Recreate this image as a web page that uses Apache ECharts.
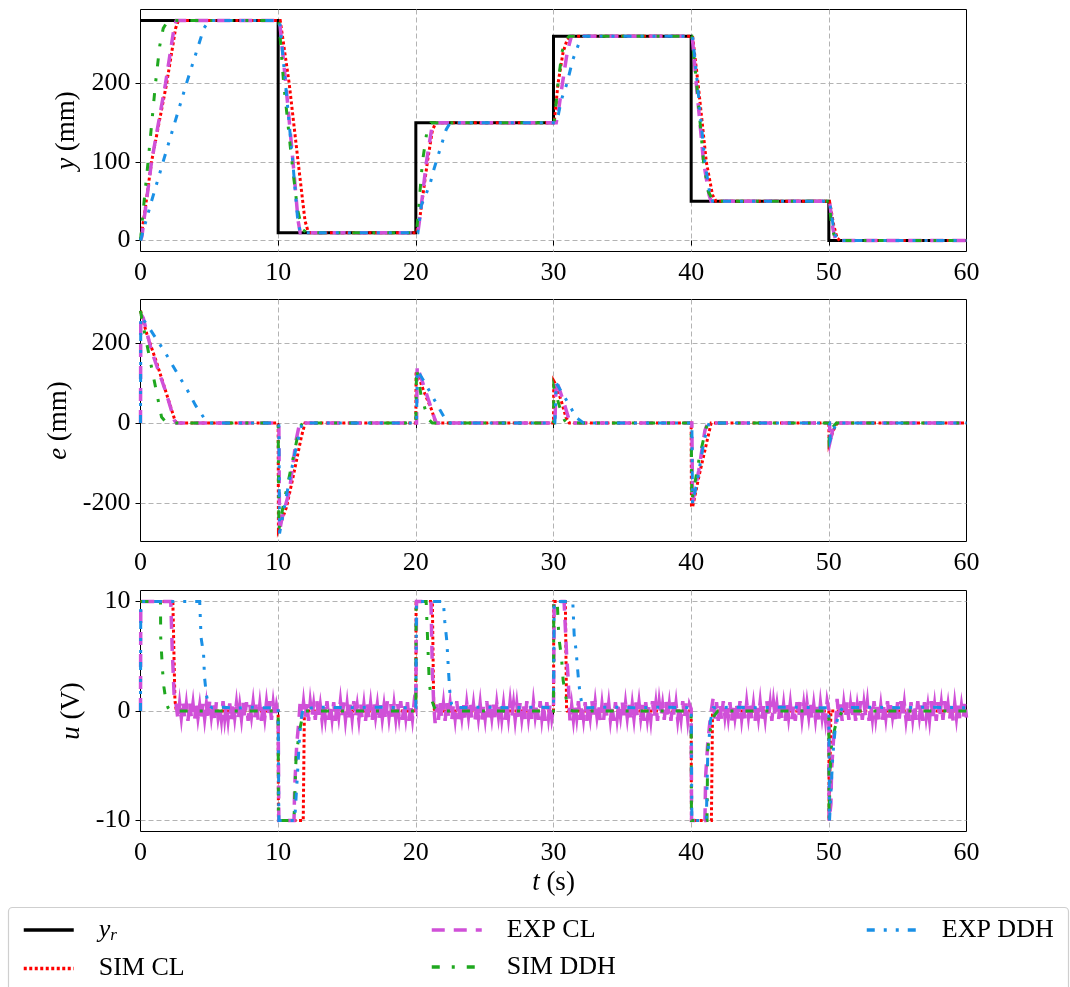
<!DOCTYPE html>
<html>
<head>
<meta charset="utf-8">
<script src="https://cdn.jsdelivr.net/npm/echarts@6/dist/echarts.min.js"></script>
<style>html,body{margin:0;padding:0;background:#fff}#c{width:1070px;height:987px}</style>
</head>
<body>
<div id="c"></div>
<script>
// ---------- data ----------
const xTicks = [0, 10, 20, 30, 40, 50, 60];
const yTicksTop = [0, 100, 200];
const yTicksMid = [-200, 0, 200];
const yTicksBot = [-10, 0, 10];
const seriesNames = ['y_r', 'SIM CL', 'EXP CL', 'SIM DDH', 'EXP DDH'];

// top: position y (mm)
const yRef = [[0,280],[10,280],[10,10],[20,10],[20,150],[30,150],[30,260],[40,260],[40,50],[50,50],[50,0],[60,0]];
const simClY = [[0,0],[0.3,35],[0.8,100],[1.9,200],[2.55,270],[2.75,280],
  [10.15,280],[10.8,200],[11.45,100],[11.95,25],[12.2,10],
  [20.05,10],[20.3,30],[20.84,100],[21.2,140],[21.45,150],
  [30.05,150],[30.33,200],[30.7,240],[31.0,256],[31.25,260],
  [40.1,260],[40.5,200],[41.1,100],[41.55,58],[41.8,50],
  [50.05,50],[50.35,20],[50.6,3],[50.8,0],[60,0]];
const expClY = [[0,0],[0.1,5],[0.8,100],[1.82,200],[2.45,272],[2.6,280],
  [10.1,280],[10.55,200],[11.08,100],[11.45,25],[11.6,10],
  [20.15,10],[20.3,30],[20.77,100],[21.15,142],[21.4,150],
  [30.2,150],[30.4,170],[30.65,200],[31.0,240],[31.3,260],
  [40.08,260],[40.37,200],[40.9,100],[41.3,58],[41.45,50],
  [50.05,50],[50.3,15],[50.5,0],[60,0]];
const simDdhY = [[0,0],[0.15,30],[0.55,100],[1.09,200],[1.4,248],[1.65,270],[2.0,280],
  [10.05,280],[10.4,200],[11.0,100],[11.4,40],[11.75,14],[12.1,10],
  [20.05,10],[20.2,40],[20.48,100],[20.8,138],[21.1,150],
  [30.05,150],[30.33,200],[30.62,240],[30.9,256],[31.15,260],
  [40.05,260],[40.4,200],[40.9,100],[41.25,62],[41.6,50],
  [50.02,50],[50.2,18],[50.45,3],[50.7,0],[60,0]];
const expDdhY = [[0,0],[0.8,50],[1.64,100],[3.34,200],[4.6,270],[5.0,280],
  [10.1,280],[10.53,200],[11.06,100],[11.4,30],[11.6,10],
  [20.15,10],[20.4,45],[21.0,70],[21.32,91],[21.74,115],[22.2,141],[22.5,150],
  [30.15,150],[30.35,160],[30.57,179],[30.98,200],[31.4,230],[31.85,251],[32.2,260],
  [40.1,260],[40.45,200],[41.0,100],[41.35,60],[41.55,50],
  [50.05,50],[50.35,15],[50.6,0],[60,0]];

// middle: error e (mm)
const simClE = [[0,280],[0.43,225],[1.16,152],[1.89,73],[2.5,7],[2.65,0],
  [10,0],[10.02,-265],[10.15,-262],[10.6,-210],[11.08,-135],[11.68,-35],[11.95,0],
  [20,0],[20.02,130],[20.1,125],[20.55,82],[21.16,32],[21.45,0],
  [30,0],[30.02,105],[30.1,100],[30.55,57],[30.9,15],[31.15,0],
  [40,0],[40.02,-205],[40.1,-210],[40.55,-135],[41.05,-60],[41.45,0],
  [50,0],[50.02,-50],[50.3,-20],[50.6,0],[60,0]];
const expClE = [[0,0],[0.02,272],[0.2,262],[0.8,180],[1.82,80],[2.45,8],[2.6,0],
  [10.05,0],[10.1,-270],[10.24,-243],[10.82,-168],[11.3,-43],[11.5,-10],[11.6,0],
  [20.05,0],[20.1,142],[20.77,73],[21.37,11],[21.5,0],
  [30.1,0],[30.2,108],[30.82,44],[31.2,0],
  [40.05,0],[40.1,-198],[40.2,-200],[40.55,-118],[41.0,-18],[41.2,0],
  [50.05,0],[50.1,-45],[50.3,-15],[50.5,0],[60,0]];
const simDdhE = [[0,280],[0.15,250],[0.92,119],[1.53,15],[1.9,0],
  [10,0],[10.05,-265],[10.4,-200],[11.1,-85],[11.55,-10],[11.8,0],
  [20,0],[20.05,136],[20.4,65],[20.9,11],[21.2,0],
  [30,0],[30.02,90],[30.45,40],[30.8,7],[31.0,0],
  [40,0],[40.05,-193],[40.6,-85],[41.1,-10],[41.3,0],
  [50,0],[50.02,-40],[50.25,-12],[50.55,0],[60,0]];
const expDdhE = [[0,0],[0.02,265],[0.43,248],[1.84,173],[2.69,123],[3.41,82],[4.0,44],[4.73,7],[5.0,0],
  [10.05,0],[10.1,-275],[10.62,-177],[11.2,-77],[11.7,-6],[11.8,0],
  [20.05,0],[20.1,132],[20.55,107],[21.2,67],[21.8,30],[22.3,0],
  [30.1,0],[30.2,100],[30.6,77],[31.3,36],[31.6,15],[32.2,0],
  [40.05,0],[40.1,-200],[40.45,-143],[40.94,-43],[41.3,0],
  [50.05,0],[50.1,-42],[50.35,-15],[50.6,0],[60,0]];

// bottom: control u (V)
const simClU = [[0,10],[2.35,10],[2.5,1],[2.6,0],
  [10,0],[10.02,-10],[11.82,-10],[11.9,-0.5],[12,0],
  [20,0],[20.02,10],[21.2,10],[21.3,0.3],[21.4,0],
  [30,0],[30.02,10],[30.86,10],[30.95,0.2],[31,0],
  [40,0],[40.02,-10],[41.47,-10],[41.55,-0.3],[41.6,0],
  [50,0],[50.02,-10],[50.06,-10],[50.15,0],[60,0]];
const simDdhU = [[0,10],[1.45,10],[1.47,6.6],[1.52,5.5],[1.6,3.7],[1.7,2.2],[1.85,0.9],[2.0,0.3],[2.2,0],
  [10,0],[10.02,-10],[11.15,-10],[11.3,-4.2],[11.55,-1.8],[11.8,-0.3],[12.0,0],
  [20,0],[20.02,10],[20.75,10],[20.85,6.7],[20.97,2.8],[21.1,1.2],[21.35,0.3],[21.7,0],
  [30,0],[30.02,10],[30.27,10],[30.39,6.7],[30.58,4.9],[30.7,2.8],[30.95,0.9],[31.2,0.1],[31.4,0],
  [40,0],[40.02,-10],[41.15,-10],[41.2,-3.6],[41.33,-2.1],[41.57,-0.6],[41.93,0],
  [50,0],[50.02,-10],[50.1,-5.4],[50.2,-3],[50.45,-1.5],[50.7,-0.6],[50.95,-0.1],[51.2,0],[60,0]];
const expDdhU = [[0,0],[0.02,10],[4.3,10],[4.4,6.7],[4.58,5.2],[4.65,3.1],[4.78,1.5],[4.95,0.5],[5.2,0.3],
  [6,0.35],[7,0.25],[8,0.35],[9,0.3],[10,0.3],
  [10.05,-10],[11.2,-10],[11.42,-5.4],[11.55,-2.4],[11.65,-0.9],[11.8,0.2],[13,0.35],[15,0.3],[17,0.35],[19,0.3],[20,0.3],
  [20.05,10],[22.0,10],[22.1,8.2],[22.25,6.4],[22.4,3.1],[22.5,1.2],[22.6,0.6],[22.8,0.3],[25,0.35],[27,0.3],[29,0.35],[30,0.3],
  [30.05,10],[31.4,10],[31.5,7],[31.64,5.5],[31.8,3.1],[31.93,1.5],[32.08,0.6],[32.3,0.3],[34,0.35],[36,0.3],[38,0.35],[40,0.3],
  [40.05,-10],[41.1,-10],[41.2,-4.2],[41.4,-0.9],[41.6,0.3],[43,0.35],[45,0.3],[47,0.35],[49,0.3],[50,0.3],
  [50.05,-10],[50.25,-5],[50.3,-3.9],[50.45,-1.8],[50.7,-0.3],[51,0.3],[53,0.35],[55,0.3],[57,0.35],[60,0.3]];
// EXP CL u: transitions + hand-read oscillation band between them
const expClUSteps = [
  [[0,0],[0.02,10],[2.2,10],[2.3,5.8],[2.45,1.2]],
  [[10.05,-10],[11.15,-10],[11.2,-7],[11.35,-3],[11.5,-1]],
  [[20.05,10],[21.1,10],[21.2,3.7],[21.3,0.6]],
  [[30.05,10],[30.77,10],[30.95,5.2],[31.07,2.8]],
  [[40.03,-10],[41.0,-10],[41.05,-6],[41.2,-3],[41.4,-0.5]],
  [[50.02,-10],[50.15,-8.5],[50.2,-5.4],[50.35,-2.4],[50.5,-1.2]]
];
const expClNoiseSpans = [[2.6,10],[11.6,20],[21.4,30],[31.2,40],[41.6,50],[50.6,60]];
const expClNoise1 = [.5,-.8,.7,-.6,.9,-.7,.6,-.9,.8,-.5,.7,-.8,.9,-.6,.5,-.9,.8,-.7,.6,-.8,.9,-.5,.7,-.9,.8,-.6,.4,-.8,.9,-.7,.6,-.8,.7,-.9,.8,-.6,.7,-.8,.5,-.7,.9,-.6,.8,-.9,.6,-.5,.8,-.7,.9,-.8,.6,-.9,.7,-.6,.8,-.5,.9,-.8,.7,-.6,.5,-.3];
const expClNoise2 = [.9,-.7,.8,-.6,.7,-.9,.8,-.5,.6,-.8,.9,-.7,.5,-.8,.7,-.6,.9,-.8,.6,-.7,.8,-.9,.7,-.5,.9,-.6,.8,-.8,.6,-.9,.7,-.7,.9,-.6,.5,-.8,.8,-.7,.6,-.9,.8,-.6,.7,-.8,.9,-.5,.6,-.9,.8,-.7,.5,-.8,.9,-.6,.7,-.9,.6,-.7,.8,-.5,.9,-.8,.7,-.6,.8,-.9,.6,-.7,.8,.3];
const expClNoise3 = [-1.1,.6,-.8,.9,-.6,.7,-.9,.8,-.5,.7,-.8,.6,-.7,.9,-.8,.5,-.6,.8,-.9,.7,-.5,.9,-.7,.6,-.8,.8,-.6,.7,-.9,.5,-.7,.9,-.8,.6,-.6,.8,-.9,.7,-.5,.8,-.7,.6,-.9,.8,-.6,.9,-.5,.7,-.8,.6,-.9,.8,-.7,.5,-.8,.9,-.6,.7,-.9,.8,-.5,.6,-.8,.9,-.7,.6,-.9,.8,-.6,.7,-.7,.2];
const expClNoise4 = [-1.0,.5,-.8,.7,-.6,.9,-.8,.6,-.7,.8,-.9,.5,-.6,.9,-.7,.8,-.5,.7,-.9,.6,-.8,.9,-.6,.7,-.8,.5,-.9,.8,-.7,.6,-.5,.9,-.8,.7,-.6,.8,-.9,.6,-.7,.9,-.5,.8,-.6,.7,-.9,.8,-.7,.5,-.8,.9,-.6,.7,-.9,.8,-.5,.6,-.8,.9,-.7,.6,-.9,.8,-.6,.7,-.8,.5,-.7,.9,-.6,.8,-.8,.6,.2];
const expClNoise5 = [1.2,-.7,.8,-.9,.6,-.8,.9,-.5,.7,-.6,.8,-.9,.7,-.6,.5,-.8,.9,-.7,.6,-.8,.8,-.5,.9,-.7,.6,-.9,.7,-.6,.8,-.8,.5,-.7,.9,-.6,.7,-.9,.8,-.5,.6,-.8,.9,-.7,.6,-.9,.8,-.6,.7,-.8,.5,-.9,.8,-.6,.9,-.7,.6,-.8,.7,-.5,.9,-.8,.6,-.7,.8,-.9,.7,-.6,.5,-.8,.9,.1];
const expClNoise6 = [1.1,-.6,.8,-.9,.7,-.5,.9,-.8,.6,-.7,.8,-.9,.5,-.6,.9,-.8,.7,-.5,.8,-.9,.6,-.7,.9,-.6,.8,-.8,.5,-.9,.7,-.6,.9,-.7,.8,-.5,.6,-.9,.8,-.7,.9,-.6,.7,-.8,.5,-.9,.8,-.7,.6,-.8,.9,-.5,.7,-.9,.8,-.6,.5,-.8,.9,-.7,.6,-.9,.8,-.6,.7,-.8,.9,-.5,.6,-.7,.8,-.9,.7,-.6,.9,-.8,.5,-.7,.8,-.6];
const expClNoises = [expClNoise1, expClNoise2, expClNoise3, expClNoise4, expClNoise5, expClNoise6];

// ---------- build ----------
const expClU = [];
expClUSteps.forEach((seg, k) => {
  seg.forEach(p => expClU.push(p));
  const [a, b] = expClNoiseSpans[k];
  const v = expClNoises[k];
  v.forEach((val, i) => expClU.push([a + (b - a) * i / (v.length - 1), val]));
});

const FONT = '"Liberation Serif", "DejaVu Serif", serif';
const FS = 26;
const styles = {
  'y_r':     {color: '#000000', width: 3, type: 'solid'},
  'SIM CL':  {color: '#ff0000', width: 3, type: [3, 2.5]},
  'EXP CL':  {color: '#d050d8', width: 3.5, type: [13, 9]},
  'SIM DDH': {color: '#1fa81f', width: 3, type: [8, 12, 3, 12]},
  'EXP DDH': {color: '#1a90e6', width: 3, type: [8, 9, 3, 9, 3, 9]}
};

const gridTops = [9.5, 299.5, 590.5];
const gridHeights = [242, 242, 241];
const grids = gridTops.map((t, i) => ({
  left: 140.5, width: 826, top: t, height: gridHeights[i],
  show: true, borderColor: '#000', borderWidth: 1, backgroundColor: 'transparent'
}));

const gridLineStyle = {color: '#b3b3b3', width: 1, type: [5, 3]};
const richItalic = {i: {fontStyle: 'italic', fontFamily: FONT, fontSize: FS + 1, color: '#000'}};

const xAxes = [0, 1, 2].map(i => ({
  type: 'value', gridIndex: i, min: xTicks[0], max: xTicks[xTicks.length - 1], interval: 10,
  axisLine: {show: false},
  axisTick: {show: true, length: 5, lineStyle: {color: '#000', width: 1}},
  axisLabel: {fontFamily: FONT, fontSize: FS, color: '#000', margin: 9},
  splitLine: {show: true, showMinLine: false, showMaxLine: false, lineStyle: gridLineStyle},
  name: i === 2 ? '{i|t} (s)' : '',
  nameLocation: 'middle', nameGap: 38,
  nameTextStyle: {fontFamily: FONT, fontSize: FS + 1, color: '#000', rich: richItalic}
}));

function mkY(i, min, max, ticks, name, gap) {
  return {
    type: 'value', gridIndex: i, min: min, max: max,
    axisLine: {show: false},
    axisTick: {show: true, length: 5, customValues: ticks, lineStyle: {color: '#000', width: 1}},
    axisLabel: {fontFamily: FONT, fontSize: FS, color: '#000', margin: 10, customValues: ticks},
    splitLine: {show: true, showMinLine: true, showMaxLine: true, lineStyle: gridLineStyle},
    name: name, nameLocation: 'middle', nameGap: gap, nameRotate: 90,
    nameTextStyle: {fontFamily: FONT, fontSize: FS + 1, color: '#000', rich: richItalic}
  };
}
const yAxes = [
  mkY(0, -14, 294, yTicksTop, '{i|y} (mm)', 60),
  mkY(1, -295, 308, yTicksMid, '{i|e} (mm)', 68),
  mkY(2, -11, 11, yTicksBot, '{i|u} (V)', 55)
];

function line(name, data, gi) {
  const s = styles[name];
  return {
    type: 'line', name: name, data: data, xAxisIndex: gi, yAxisIndex: gi,
    showSymbol: false, symbol: 'none', animation: false, clip: true,
    lineStyle: {color: s.color, width: s.width, type: s.type, cap: 'butt', join: 'miter'},
    itemStyle: {color: s.color}
  };
}
const series = [
  line('y_r', yRef, 0),
  line('SIM CL', simClY, 0), line('EXP CL', expClY, 0), line('SIM DDH', simDdhY, 0), line('EXP DDH', expDdhY, 0),
  line('SIM CL', simClE, 1), line('EXP CL', expClE, 1), line('SIM DDH', simDdhE, 1), line('EXP DDH', expDdhE, 1),
  line('SIM CL', simClU, 2), line('EXP CL', expClU, 2), line('SIM DDH', simDdhU, 2), line('EXP DDH', expDdhU, 2)
];

const legendText = {
  fontFamily: FONT, fontSize: FS, color: '#000', padding: [0, 0, 0, 20],
  rich: {
    i: {fontStyle: 'italic', fontFamily: FONT, fontSize: FS, color: '#000'},
    s: {fontStyle: 'italic', fontFamily: FONT, fontSize: 17, color: '#000', padding: [12, 0, 0, 0]}
  }
};
function mkLegend(left, data) {
  return {
    left: left, top: 912, orient: 'vertical', data: data, itemWidth: 50, itemHeight: 14,
    itemGap: 11, selectedMode: false,
    itemStyle: {opacity: 0, borderWidth: 0},
    lineStyle: {width: 3.5},
    textStyle: legendText,
    formatter: n => n === 'y_r' ? '{i|y}{s|r}' : n
  };
}

const chart = echarts.init(document.getElementById('c'), null, {renderer: 'canvas'});
chart.setOption({
  animation: false,
  backgroundColor: '#fff',
  grid: grids,
  xAxis: xAxes,
  yAxis: yAxes,
  series: series,
  legend: [
    mkLegend(17, [seriesNames[0], seriesNames[1]]),
    mkLegend(425, [seriesNames[2], seriesNames[3]]),
    mkLegend(860, [seriesNames[4]])
  ],
  graphic: [{
    type: 'rect', z: -10, silent: true,
    shape: {x: 8.5, y: 907.5, width: 1060, height: 100, r: 4},
    style: {fill: '#fff', stroke: '#cfcfcf', lineWidth: 1.2}
  }]
});
</script>
</body>
</html>
